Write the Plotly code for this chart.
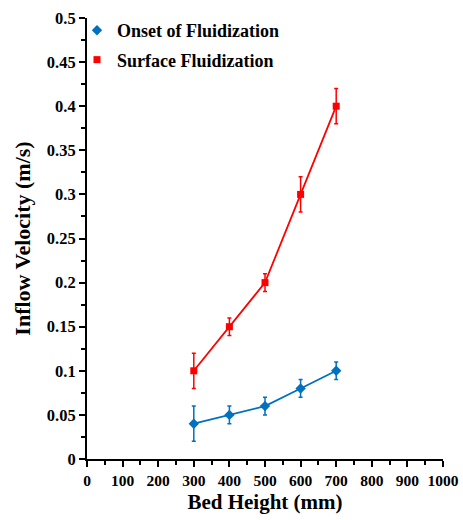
import plotly.graph_objects as go

bed_height = [300, 400, 500, 600, 700]
onset_vel = [0.04, 0.05, 0.06, 0.08, 0.10]
onset_err = [0.02, 0.01, 0.01, 0.01, 0.01]
surface_vel = [0.10, 0.15, 0.20, 0.30, 0.40]
surface_err = [0.02, 0.01, 0.01, 0.02, 0.02]

x_ticks = list(range(0, 1001, 100))
y_ticks = [0, 0.05, 0.1, 0.15, 0.2, 0.25, 0.3, 0.35, 0.4, 0.45, 0.5]
y_tick_text = ["0", "0.05", "0.1", "0.15", "0.2", "0.25", "0.3", "0.35", "0.4", "0.45", "0.5"]

font_family = "Liberation Serif"
blue = "#0070C0"
red = "#FF0000"

fig = go.Figure()
fig.add_trace(go.Scatter(
    x=bed_height, y=onset_vel, name="Onset of Fluidization",
    mode="lines+markers", showlegend=False,
    line=dict(color=blue, width=1.8),
    marker=dict(symbol="diamond", size=8, color=blue),
    error_y=dict(type="data", array=onset_err, color=blue, thickness=1.5, width=2),
))
fig.add_trace(go.Scatter(
    x=bed_height, y=surface_vel, name="Surface Fluidization",
    mode="lines+markers", showlegend=False,
    line=dict(color=red, width=1.8),
    marker=dict(symbol="square", size=7, color=red),
    error_y=dict(type="data", array=surface_err, color=red, thickness=1.5, width=2),
))
# legend entries (marker only, as in the reference)
fig.add_trace(go.Scatter(
    x=[None], y=[None], name="<b>Onset of Fluidization</b>", mode="markers",
    marker=dict(symbol="diamond", size=8, color=blue), legendgroup="a",
))
fig.add_trace(go.Scatter(
    x=[None], y=[None], name="<b>Surface Fluidization</b>", mode="markers",
    marker=dict(symbol="square", size=7, color=red), legendgroup="b",
))

fig.update_layout(
    width=463, height=520,
    margin=dict(l=87, r=20, t=15, b=61),
    plot_bgcolor="white", paper_bgcolor="white",
    font=dict(family=font_family, color="black", size=16),
    showlegend=True,
    legend=dict(x=(77 - 87) / 356, y=(459 - 9) / 444, xanchor="left", yanchor="top",
                bgcolor="rgba(0,0,0,0)", font=dict(size=18, family=font_family),
                itemwidth=30, tracegroupgap=3),
    xaxis=dict(
        range=[0, 1000], tickvals=x_ticks, ticktext=[f"<b>{v}</b>" for v in x_ticks],
        showgrid=False, zeroline=False, showline=True, linecolor="black", linewidth=2,
        ticks="outside", ticklen=6, tickwidth=1.5, tickcolor="black", automargin=False,
        minor=dict(ticks="outside", dtick=50, ticklen=4, tickwidth=1.5, tickcolor="black"),
        title=dict(text="<b>Bed Height (mm)</b>", font=dict(size=21, family=font_family), standoff=7),
        tickfont=dict(size=15.5, family=font_family),
    ),
    yaxis=dict(
        range=[0, 0.5], tickvals=y_ticks, ticktext=[f"<b>{t}</b>" for t in y_tick_text],
        showgrid=False, zeroline=False, showline=True, linecolor="black", linewidth=2,
        ticks="outside", ticklen=6, tickwidth=1.5, tickcolor="black", automargin=False,
        minor=dict(ticks="outside", dtick=0.025, ticklen=4, tickwidth=1.5, tickcolor="black"),
        title=dict(text="<b>Inflow Velocity (m/s)</b>", font=dict(size=22, family=font_family), standoff=10),
        tickfont=dict(size=16.5, family=font_family),
    ),
)

fig.write_html("out.html")
